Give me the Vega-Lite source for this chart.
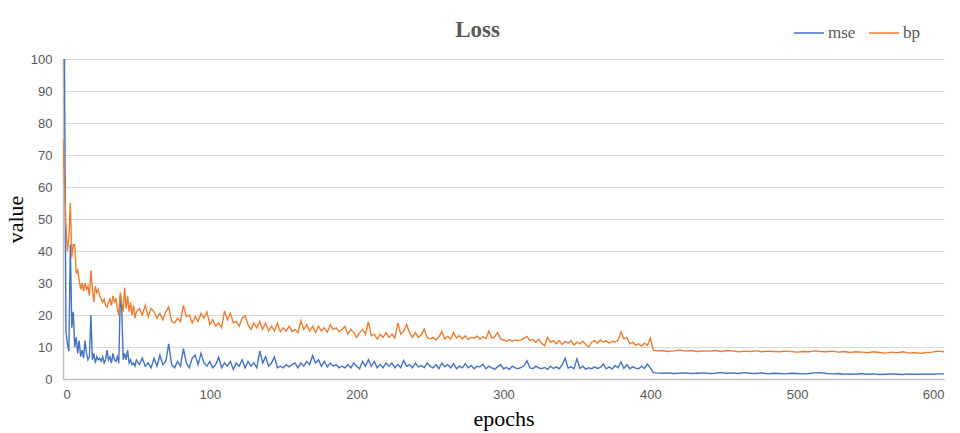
{
  "$schema": "https://vega.github.io/schema/vega-lite/v6.json",
  "width": 881,
  "height": 320,
  "autosize": {"type": "none"},
  "padding": {"left": 63, "top": 59, "right": 16, "bottom": 54},
  "background": "white",
  "config": {"view": {"stroke": null}},
  "title": {"text": "Loss", "font": "Liberation Serif", "fontSize": 23, "fontWeight": "bold", "color": "#595959", "anchor": "middle", "dx": -26, "baseline": "alphabetic", "offset": -43, "frame": "group"},
  "data": {"values": [
    {"epoch":0,"mse":100,"bp":75},{"epoch":1,"mse":100,"bp":62},{"epoch":2,"mse":15,"bp":48},{"epoch":3,"mse":11,"bp":40},{"epoch":4,"mse":8.7,"bp":44},
    {"epoch":5,"mse":42,"bp":55},{"epoch":6,"mse":16,"bp":38},{"epoch":7,"mse":21,"bp":42},{"epoch":8,"mse":10,"bp":42},{"epoch":9,"mse":13,"bp":33},
    {"epoch":10,"mse":8,"bp":34},{"epoch":11,"mse":12,"bp":31},{"epoch":12,"mse":7,"bp":28},{"epoch":13,"mse":9,"bp":30},{"epoch":14,"mse":6.5,"bp":27.5},
    {"epoch":15,"mse":12,"bp":30},{"epoch":16,"mse":8,"bp":28},{"epoch":17,"mse":6,"bp":29},{"epoch":18,"mse":7,"bp":26},{"epoch":19,"mse":20,"bp":34},
    {"epoch":20,"mse":6,"bp":28},{"epoch":21,"mse":8,"bp":24},{"epoch":22,"mse":5,"bp":29},{"epoch":23,"mse":7,"bp":27},{"epoch":24,"mse":6,"bp":28},
    {"epoch":25,"mse":6.5,"bp":26},{"epoch":26,"mse":5.5,"bp":25},{"epoch":27,"mse":7,"bp":24},{"epoch":28,"mse":5,"bp":25},{"epoch":29,"mse":6,"bp":23},
    {"epoch":30,"mse":9,"bp":22.5},{"epoch":31,"mse":6,"bp":24},{"epoch":32,"mse":7,"bp":25},{"epoch":33,"mse":5,"bp":23},{"epoch":34,"mse":8,"bp":26},
    {"epoch":35,"mse":6,"bp":24},{"epoch":36,"mse":5.5,"bp":25},{"epoch":37,"mse":7,"bp":22},{"epoch":38,"mse":5,"bp":20},{"epoch":39,"mse":26,"bp":27},
    {"epoch":40,"mse":22,"bp":24},{"epoch":41,"mse":6,"bp":21},{"epoch":42,"mse":8,"bp":28.5},{"epoch":43,"mse":6,"bp":22},{"epoch":44,"mse":9,"bp":26},
    {"epoch":45,"mse":5,"bp":21},{"epoch":46,"mse":6,"bp":24},{"epoch":47,"mse":4.5,"bp":20},{"epoch":48,"mse":5,"bp":23},{"epoch":49,"mse":4,"bp":19},
    {"epoch":50,"mse":6,"bp":21},
    {"epoch":52,"mse":4.5,"bp":22},{"epoch":54,"mse":6.5,"bp":20},{"epoch":56,"mse":4,"bp":23},{"epoch":58,"mse":5,"bp":19.5},{"epoch":60,"mse":3.5,"bp":22},
    {"epoch":62,"mse":6.5,"bp":21},{"epoch":64,"mse":4,"bp":19},{"epoch":66,"mse":7.5,"bp":20.5},{"epoch":68,"mse":4.5,"bp":18.5},{"epoch":70,"mse":5.5,"bp":21},
    {"epoch":72,"mse":11,"bp":22.5},{"epoch":74,"mse":4.5,"bp":18},{"epoch":76,"mse":3.5,"bp":17.5},{"epoch":78,"mse":5.5,"bp":19},{"epoch":80,"mse":4,"bp":18},
    {"epoch":82,"mse":9.5,"bp":23},{"epoch":84,"mse":5,"bp":19.5},{"epoch":86,"mse":3.5,"bp":20},{"epoch":88,"mse":6.5,"bp":17.5},{"epoch":90,"mse":7.5,"bp":19.5},
    {"epoch":92,"mse":4.5,"bp":18},{"epoch":94,"mse":8,"bp":20.5},{"epoch":96,"mse":5,"bp":19},{"epoch":98,"mse":4,"bp":21},{"epoch":100,"mse":5.5,"bp":17},
    {"epoch":102,"mse":3.5,"bp":18.5},{"epoch":104,"mse":4.5,"bp":16.5},{"epoch":106,"mse":6.8,"bp":17.5},{"epoch":108,"mse":3.5,"bp":16},{"epoch":110,"mse":5,"bp":21.3},
    {"epoch":112,"mse":4,"bp":18.5},{"epoch":114,"mse":5.5,"bp":20.5},{"epoch":116,"mse":3,"bp":17.5},{"epoch":118,"mse":5,"bp":18},{"epoch":120,"mse":4,"bp":16.5},
    {"epoch":122,"mse":6,"bp":19},{"epoch":124,"mse":3.5,"bp":19.7},{"epoch":126,"mse":5.5,"bp":17},{"epoch":128,"mse":4,"bp":15.5},{"epoch":130,"mse":5,"bp":17.5},
    {"epoch":132,"mse":3.5,"bp":16},{"epoch":134,"mse":8.8,"bp":18},{"epoch":136,"mse":5,"bp":15.5},{"epoch":138,"mse":7,"bp":17.5},{"epoch":140,"mse":4,"bp":15},
    {"epoch":142,"mse":5,"bp":16.5},{"epoch":144,"mse":6.9,"bp":15},{"epoch":146,"mse":3.5,"bp":17.5},{"epoch":148,"mse":4,"bp":14.8},{"epoch":150,"mse":3.5,"bp":16},
    {"epoch":152,"mse":4.5,"bp":15},{"epoch":154,"mse":3.8,"bp":16.5},{"epoch":156,"mse":4.5,"bp":14.8},{"epoch":158,"mse":5,"bp":15.5},{"epoch":160,"mse":3.5,"bp":14.5},
    {"epoch":162,"mse":5,"bp":18.2},{"epoch":164,"mse":4,"bp":15.5},{"epoch":166,"mse":5.5,"bp":17},{"epoch":168,"mse":4.5,"bp":15},{"epoch":170,"mse":7.3,"bp":16.5},
    {"epoch":172,"mse":5,"bp":14.5},{"epoch":174,"mse":6,"bp":16.5},{"epoch":176,"mse":4,"bp":15},{"epoch":178,"mse":5.5,"bp":16},{"epoch":180,"mse":3.8,"bp":14.6},
    {"epoch":182,"mse":5,"bp":17},{"epoch":184,"mse":4,"bp":15.5},{"epoch":186,"mse":4.5,"bp":16},{"epoch":188,"mse":3.5,"bp":14.8},{"epoch":190,"mse":4,"bp":15.5},
    {"epoch":192,"mse":3.5,"bp":16.5},{"epoch":194,"mse":4.5,"bp":14},{"epoch":196,"mse":3.5,"bp":15.5},{"epoch":198,"mse":5,"bp":14.5},{"epoch":200,"mse":4,"bp":13},
    {"epoch":202,"mse":3.2,"bp":14.5},{"epoch":204,"mse":5.5,"bp":15.5},{"epoch":206,"mse":4,"bp":14},{"epoch":208,"mse":6,"bp":17.9},{"epoch":210,"mse":4,"bp":13.5},
    {"epoch":212,"mse":5.5,"bp":14},{"epoch":214,"mse":3.5,"bp":12.5},{"epoch":216,"mse":4.5,"bp":14},{"epoch":218,"mse":3.5,"bp":13},{"epoch":220,"mse":5,"bp":14.5},
    {"epoch":222,"mse":4,"bp":13},{"epoch":224,"mse":5,"bp":14},{"epoch":226,"mse":3.5,"bp":12.8},{"epoch":228,"mse":4.5,"bp":17.5},{"epoch":230,"mse":3.5,"bp":14},
    {"epoch":232,"mse":5.8,"bp":15},{"epoch":234,"mse":4,"bp":17},{"epoch":236,"mse":4.5,"bp":14.5},{"epoch":238,"mse":3.5,"bp":13},{"epoch":240,"mse":5,"bp":14.5},
    {"epoch":242,"mse":3.8,"bp":13},{"epoch":244,"mse":4.2,"bp":13.8},{"epoch":246,"mse":3.5,"bp":15.6},{"epoch":248,"mse":5,"bp":13},{"epoch":250,"mse":4,"bp":12.5},
    {"epoch":252,"mse":3.5,"bp":13},{"epoch":254,"mse":4.5,"bp":12.2},{"epoch":256,"mse":3.2,"bp":13.2},{"epoch":258,"mse":5,"bp":14.9},{"epoch":260,"mse":3.8,"bp":12.5},
    {"epoch":262,"mse":4.5,"bp":13.4},{"epoch":264,"mse":3.5,"bp":12.5},{"epoch":266,"mse":4.8,"bp":14.5},{"epoch":268,"mse":3.2,"bp":12.8},{"epoch":270,"mse":4,"bp":13.5},
    {"epoch":272,"mse":3.5,"bp":12.5},{"epoch":274,"mse":4.8,"bp":13.5},{"epoch":276,"mse":3.5,"bp":12.3},{"epoch":278,"mse":4.2,"bp":13},{"epoch":280,"mse":3.2,"bp":12.8},
    {"epoch":282,"mse":4,"bp":13.4},{"epoch":284,"mse":3.8,"bp":12.5},{"epoch":286,"mse":4.6,"bp":13.2},{"epoch":288,"mse":3.2,"bp":12.6},{"epoch":290,"mse":4,"bp":15},
    {"epoch":292,"mse":3.5,"bp":12.8},{"epoch":294,"mse":3,"bp":13.2},{"epoch":296,"mse":3.8,"bp":14.5},{"epoch":298,"mse":4.5,"bp":12.5},{"epoch":300,"mse":3.2,"bp":12.2},
    {"epoch":302,"mse":3.6,"bp":11.8},{"epoch":304,"mse":3,"bp":12.3},{"epoch":306,"mse":4,"bp":11.8},{"epoch":308,"mse":3.5,"bp":12.2},{"epoch":310,"mse":3.2,"bp":12},
    {"epoch":312,"mse":3.6,"bp":12.2},{"epoch":314,"mse":4.2,"bp":12.8},{"epoch":316,"mse":5.7,"bp":13.3},{"epoch":318,"mse":3.5,"bp":12},{"epoch":320,"mse":3.2,"bp":12.3},
    {"epoch":322,"mse":4,"bp":11.5},{"epoch":324,"mse":3.5,"bp":12.4},{"epoch":326,"mse":3.2,"bp":11.2},{"epoch":328,"mse":3.6,"bp":10.4},{"epoch":330,"mse":3,"bp":13},
    {"epoch":332,"mse":4,"bp":11.5},{"epoch":334,"mse":3.3,"bp":12},{"epoch":336,"mse":3.8,"bp":11},{"epoch":338,"mse":3.2,"bp":12},{"epoch":340,"mse":4.5,"bp":10.8},
    {"epoch":342,"mse":6.5,"bp":11.8},{"epoch":344,"mse":3.4,"bp":11.2},{"epoch":346,"mse":3.8,"bp":12},{"epoch":348,"mse":3.2,"bp":10.6},{"epoch":350,"mse":6.3,"bp":11.5},
    {"epoch":352,"mse":3.3,"bp":11},{"epoch":354,"mse":4,"bp":11.8},{"epoch":356,"mse":3.1,"bp":10.8},{"epoch":358,"mse":3.5,"bp":10},{"epoch":360,"mse":3.2,"bp":11.5},
    {"epoch":362,"mse":3.8,"bp":12},{"epoch":364,"mse":3.3,"bp":11.2},{"epoch":366,"mse":3.6,"bp":12.2},{"epoch":368,"mse":4.7,"bp":11.5},{"epoch":370,"mse":3.2,"bp":12},
    {"epoch":372,"mse":3.8,"bp":11.2},{"epoch":374,"mse":3.1,"bp":11.8},{"epoch":376,"mse":4.2,"bp":11.5},{"epoch":378,"mse":3.5,"bp":12.2},{"epoch":380,"mse":5.3,"bp":14.7},
    {"epoch":382,"mse":3.3,"bp":12.5},{"epoch":384,"mse":4.5,"bp":13},{"epoch":386,"mse":3.2,"bp":11},{"epoch":388,"mse":3.8,"bp":11.5},{"epoch":390,"mse":3.4,"bp":10.5},
    {"epoch":392,"mse":3.2,"bp":11},{"epoch":394,"mse":4,"bp":10.3},{"epoch":396,"mse":3.3,"bp":11.2},{"epoch":398,"mse":4.7,"bp":10.5},{"epoch":400,"mse":3.5,"bp":12.8},
    {"epoch":402,"mse":2,"bp":9},{"epoch":404,"mse":1.9,"bp":8.8},
    {"epoch":408,"mse":1.8,"bp":8.9},{"epoch":412,"mse":1.9,"bp":8.6},{"epoch":416,"mse":1.7,"bp":8.8},{"epoch":420,"mse":1.8,"bp":9.1},{"epoch":424,"mse":1.9,"bp":8.7},
    {"epoch":428,"mse":1.7,"bp":8.9},{"epoch":432,"mse":1.8,"bp":8.6},{"epoch":436,"mse":1.9,"bp":8.8},{"epoch":440,"mse":1.7,"bp":8.7},{"epoch":444,"mse":1.8,"bp":8.9},
    {"epoch":448,"mse":2,"bp":8.6},{"epoch":452,"mse":1.8,"bp":8.9},{"epoch":456,"mse":1.9,"bp":8.8},{"epoch":460,"mse":1.7,"bp":8.5},{"epoch":464,"mse":2,"bp":8.7},
    {"epoch":468,"mse":1.8,"bp":8.6},{"epoch":472,"mse":1.7,"bp":8.8},{"epoch":476,"mse":1.9,"bp":8.5},{"epoch":480,"mse":1.6,"bp":8.7},{"epoch":484,"mse":1.8,"bp":8.6},
    {"epoch":488,"mse":1.7,"bp":8.5},{"epoch":492,"mse":1.6,"bp":8.7},{"epoch":496,"mse":1.8,"bp":8.6},{"epoch":500,"mse":1.7,"bp":8.4},{"epoch":504,"mse":1.6,"bp":8.6},
    {"epoch":508,"mse":1.7,"bp":8.5},{"epoch":512,"mse":1.9,"bp":8.8},{"epoch":516,"mse":2,"bp":8.6},{"epoch":520,"mse":1.7,"bp":8.5},{"epoch":524,"mse":1.6,"bp":8.7},
    {"epoch":528,"mse":1.7,"bp":8.4},{"epoch":532,"mse":1.5,"bp":8.6},{"epoch":536,"mse":1.6,"bp":8.3},{"epoch":540,"mse":1.5,"bp":8.5},{"epoch":544,"mse":1.7,"bp":8.4},
    {"epoch":548,"mse":1.5,"bp":8.2},{"epoch":552,"mse":1.6,"bp":8.5},{"epoch":556,"mse":1.4,"bp":8.3},{"epoch":560,"mse":1.5,"bp":8.1},{"epoch":564,"mse":1.6,"bp":8.4},
    {"epoch":568,"mse":1.5,"bp":8.2},{"epoch":572,"mse":1.4,"bp":8.5},{"epoch":576,"mse":1.6,"bp":8.1},{"epoch":580,"mse":1.5,"bp":8.3},{"epoch":584,"mse":1.5,"bp":8},
    {"epoch":588,"mse":1.6,"bp":8.3},{"epoch":592,"mse":1.5,"bp":8.4},{"epoch":596,"mse":1.6,"bp":8.7},{"epoch":600,"mse":1.6,"bp":8.5}
  ]},
  "transform": [{"fold": ["mse", "bp"], "as": ["series", "value"]}],
  "mark": {"type": "line", "strokeWidth": 1.4, "clip": true},
  "encoding": {
    "x": {
      "field": "epoch", "type": "quantitative",
      "scale": {"domain": [0, 600], "nice": false},
      "axis": {"values": [0, 100, 200, 300, 400, 500, 600], "grid": false, "ticks": false, "domainColor": "#bfbfbf", "domainWidth": 1.5, "labelPadding": 9, "labelFont": "Liberation Sans", "labelFontSize": 13, "labelColor": "#595959", "title": "epochs", "titleFont": "Liberation Serif", "titleFontSize": 22, "titleFontWeight": "normal", "titleColor": "#000000", "titleBaseline": "alphabetic", "titleX": 440.5, "titleY": 46}
    },
    "y": {
      "field": "value", "type": "quantitative",
      "scale": {"domain": [0, 100], "nice": false},
      "axis": {"values": [0, 10, 20, 30, 40, 50, 60, 70, 80, 90, 100], "grid": true, "gridColor": "#d9d9d9", "gridWidth": 1, "ticks": false, "domainColor": "#bfbfbf", "domainWidth": 1.5, "labelPadding": 11, "labelFont": "Liberation Sans", "labelFontSize": 13, "labelColor": "#595959", "title": "value", "titleFont": "Liberation Serif", "titleFontSize": 22, "titleFontWeight": "normal", "titleColor": "#000000", "titleBaseline": "alphabetic", "titleX": -41, "titleY": 160}
    },
    "color": {
      "field": "series", "type": "nominal",
      "scale": {"domain": ["mse", "bp"], "range": ["#4472C4", "#ED7D31"]},
      "legend": {"orient": "none", "legendX": 730, "legendY": -42, "direction": "horizontal", "title": null, "symbolType": "stroke", "symbolSize": 900, "symbolStrokeWidth": 1.5, "labelFont": "Liberation Serif", "labelFontSize": 17, "labelColor": "#595959", "labelOffset": 3, "columnPadding": 10, "padding": 0, "offset": 0}
    }
  }
}
